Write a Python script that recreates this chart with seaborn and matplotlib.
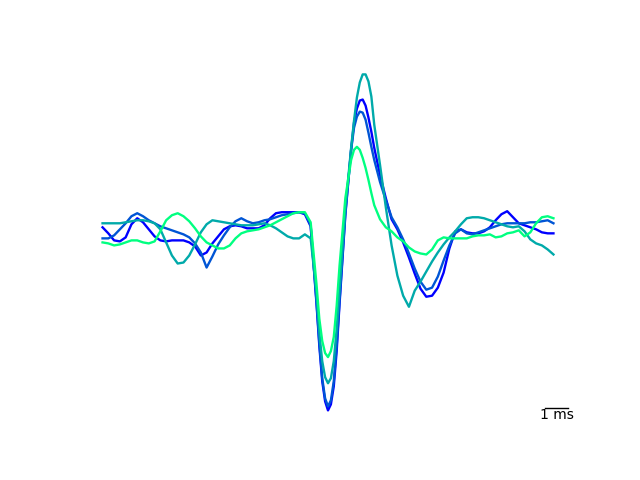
import matplotlib
matplotlib.use("Agg")
import matplotlib.pyplot as plt
import numpy as np
import pandas as pd
import seaborn as sns

# sample times (ms, trough at 0)
time_ms = [-9.75, -9.5, -9.25, -9.0, -8.75, -8.5, -8.25, -8.0, -7.75, -7.5,
           -7.25, -7.0, -6.75, -6.5, -6.25, -6.0, -5.75, -5.5, -5.25, -5.0,
           -4.75, -4.5, -4.25, -4.0, -3.75, -3.5, -3.25, -3.0, -2.75, -2.5,
           -2.25, -2.0, -1.75, -1.5, -1.25, -1.0, -0.75, -0.5, -0.375, -0.25,
           -0.125, 0.0, 0.125, 0.25, 0.375, 0.5, 0.75, 1.0,
           1.125, 1.25, 1.375, 1.5, 1.625, 1.75, 1.875, 2.0,
           2.25, 2.5, 2.75, 3.0, 3.25, 3.5, 3.75, 4.0, 4.25, 4.5,
           4.75, 5.0, 5.25, 5.5, 5.75, 6.0, 6.25, 6.5, 6.75, 7.0,
           7.25, 7.5, 7.75, 8.0, 8.25, 8.5, 8.75, 9.0, 9.25, 9.5,
           9.75]

# mean waveforms of the four units (arbitrary amplitude units)
unit_1 = [-7, -13, -20, -21, -17, -4, 2, -2, -9, -16,
          -20, -21, -20, -20, -20, -22, -26, -35, -32, -23,
          -16, -9, -6, -5, -6, -8, -8, -8, -5, 2,
          7, 8, 8, 8, 8, 6, -6, -82, -125, -160,
          -180, -189, -183, -165, -130, -83, 5, 70,
          97, 111, 119, 120, 114, 102, 88, 72,
          45, 22, 1, -9, -22, -37, -53, -68, -76, -75,
          -67, -52, -28, -11, -9, -12, -13, -13, -11, -7,
          0, 6, 9, 3, -3, -5, -7, -9, -12, -13,
          -13]
unit_2 = [-18, -18, -15, -9, -3, 4, 7, 4, 0, -3,
          -6, -8, -10, -12, -14, -17, -23, -32, -47, -36,
          -24, -15, -7, -1, 2, -1, -3, -2, 0, 1,
          3, 5, 6, 7, 8, 7, -5, -80, -122, -157,
          -177, -185, -179, -160, -125, -80, 7, 70,
          92, 103, 108, 107, 100, 87, 73, 60,
          38, 20, 3, -7, -19, -33, -48, -61, -69, -67,
          -56, -40, -25, -13, -9, -13, -14, -12, -10, -8,
          -6, -4, -3, -3, -3, -3, -2, -2, -1, 0,
          -3]
unit_3 = [-3, -3, -3, -3, -2, -1, 0, 0, -1, -3,
          -9, -22, -35, -43, -42, -35, -24, -12, -4, 0,
          -1, -2, -3, -4, -5, -5, -5, -4, -3, -5,
          -8, -12, -16, -18, -18, -14, -18, -72, -112, -140,
          -156, -162, -157, -140, -108, -68, 12, 72,
          99, 122, 137, 145, 145, 138, 123, 95,
          55, 13, -25, -55, -75, -86, -70, -61, -51, -41,
          -32, -24, -17, -11, -4, 2, 3, 3, 2, 0,
          -2, -4, -6, -7, -6, -11, -19, -23, -25, -29,
          -34]
unit_4 = [-22, -23, -25, -24, -22, -20, -20, -22, -23, -21,
          -11, 0, 5, 7, 4, -1, -8, -16, -22, -25,
          -28, -28, -25, -18, -13, -11, -10, -9, -7, -5,
          -2, 1, 4, 7, 8, 8, -2, -63, -98, -120,
          -132, -136, -130, -116, -85, -45, 22, 60,
          70, 73, 70, 62, 52, 40, 27, 15,
          1, -7, -11, -17, -21, -27, -31, -33, -34, -29,
          -20, -17, -18, -18, -18, -18, -16, -15, -15, -14,
          -17, -16, -13, -12, -10, -16, -12, -3, 3, 4,
          2]

units = ["unit 1", "unit 2", "unit 3", "unit 4"]

df = pd.DataFrame({"time": time_ms, "unit 1": unit_1, "unit 2": unit_2,
                   "unit 3": unit_3, "unit 4": unit_4})
df = df.melt(id_vars="time", var_name="unit", value_name="amplitude")

# winter colormap, end points included
palette = [plt.cm.winter(v) for v in np.linspace(0, 1, len(units))]

fig, ax = plt.subplots(figsize=(6.4, 4.8), dpi=100)
sns.lineplot(data=df, x="time", y="amplitude", hue="unit", hue_order=units,
             palette=palette, linewidth=1.7, legend=False, ax=ax)
for line in ax.get_lines():
    line.set_solid_joinstyle("round")

# freeze the limits before adding the scale bar
ax.set_xlim(ax.get_xlim())
ax.set_ylim(ax.get_ylim())

# 1 ms scale bar
bar_x = [9.4, 10.4]
bar_y = -187
ax.plot(bar_x, [bar_y, bar_y], color="black", linewidth=1)
ax.text(np.mean(bar_x), bar_y, "1 ms", ha="center", va="top", fontsize=10)

ax.axis("off")
fig.savefig("out.png", dpi=100)
